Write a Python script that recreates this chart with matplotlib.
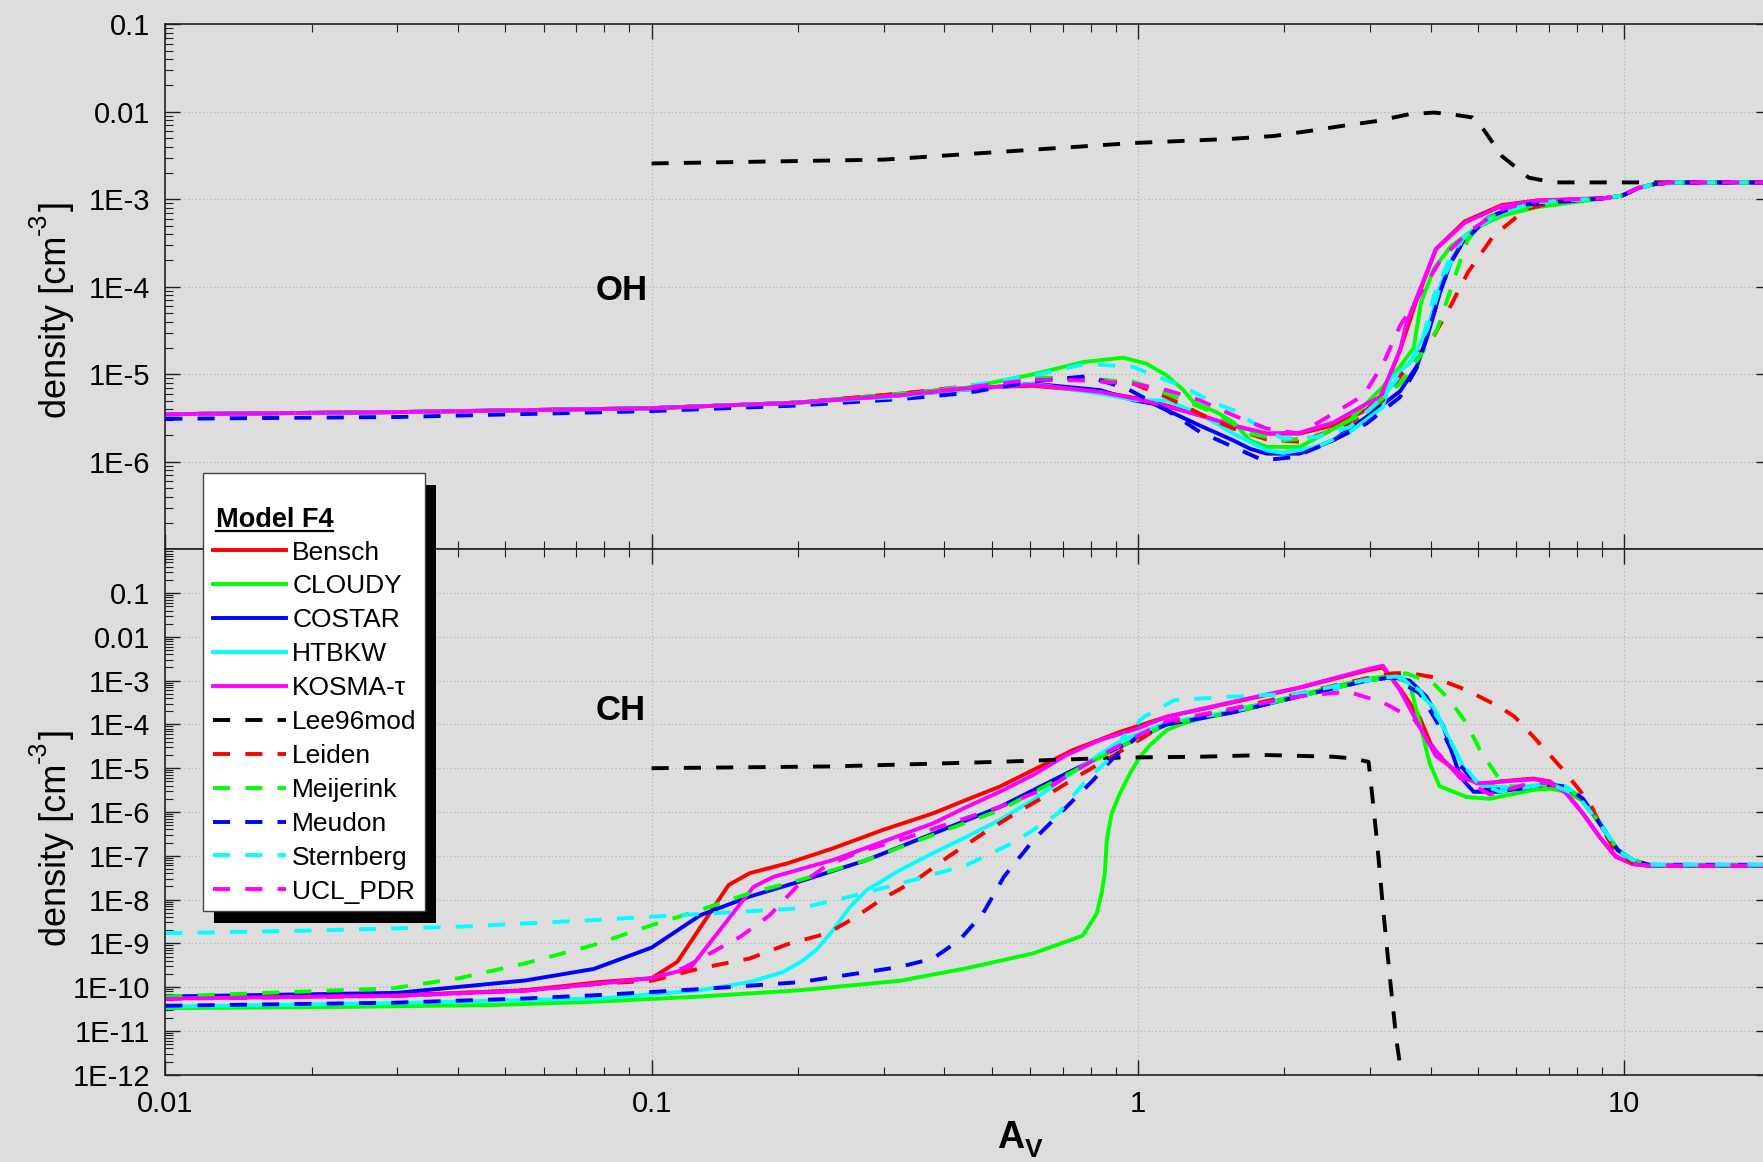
import numpy as np
import matplotlib
matplotlib.use("Agg")
import matplotlib.pyplot as plt
from matplotlib.ticker import LogLocator, FixedLocator, FuncFormatter, NullFormatter
from matplotlib.lines import Line2D
from matplotlib.patches import Rectangle

# ---------------------------------------------------------------- data
models = ["Bensch", "CLOUDY", "COSTAR", "HTBKW", "KOSMA-\u03c4", "Lee96mod",
          "Leiden", "Meijerink", "Meudon", "Sternberg", "UCL_PDR"]
colors = ["#ff0000", "#00ff00", "#0000ff", "#00ffff", "#ff00ff", "#000000",
          "#ff0000", "#00ff00", "#0000ff", "#00ffff", "#ff00ff"]
dashed = [False, False, False, False, False, True, True, True, True, True, True]

# ---- OH panel (A_V, density)
oh_base_av = [0.01, 0.03, 0.1, 0.2]
oh_base_n = [3.5e-6, 3.7e-6, 4.1e-6, 4.75e-6]
oh_meudon_base_n = [3.1e-6, 3.25e-6, 3.8e-6, 4.4e-6]
oh_tail_av = [9.09, 9.9, 10.7, 11.6, 12.6, 20.0]
oh_tail_n = [1.03e-3, 1.1e-3, 1.35e-3, 1.5e-3, 1.56e-3, 1.56e-3]

oh_av_bensch = [0.324, 0.444, 0.609, 0.836, 1.0, 1.146, 1.34, 1.57, 1.84, 2.15,
                2.52, 2.95, 3.19, 3.46, 3.74, 4.1, 4.7, 5.6, 6.6]
oh_n_bensch = [6.0e-6, 7.0e-6, 7.4e-6, 6.3e-6, 5.3e-6, 4.4e-6, 3.4e-6, 2.6e-6, 2.1e-6, 2.1e-6,
               2.6e-6, 3.9e-6, 6.0e-6, 1.9e-5, 7.0e-5, 2.7e-4, 5.6e-4, 8.6e-4, 9.7e-4]
oh_av_cloudy = [0.324, 0.444, 0.609, 0.772, 0.933, 1.042, 1.146, 1.24, 1.30, 1.45,
                1.57, 1.70, 1.84, 2.15, 2.73, 3.19, 3.45, 3.69, 3.82, 4.06,
                4.4, 4.93, 5.61, 6.59]
oh_n_cloudy = [6.0e-6, 7.0e-6, 1.0e-5, 1.38e-5, 1.55e-5, 1.32e-5, 9.7e-6, 6.6e-6, 4.8e-6, 3.7e-6,
               2.85e-6, 1.76e-6, 1.48e-6, 1.48e-6, 3.0e-6, 7.2e-6, 1.2e-5, 2.0e-5, 6.6e-5, 1.6e-4,
               2.9e-4, 4.6e-4, 6.5e-4, 8.1e-4]
oh_av_costar = [0.324, 0.609, 0.836, 0.979, 1.076, 1.146, 1.34, 1.57, 1.70, 1.84,
                2.15, 2.52, 2.95, 3.46, 3.75, 3.94, 4.2, 4.4, 4.65, 5.25, 6.08]
oh_n_costar = [5.75e-6, 7.8e-6, 6.6e-6, 5.05e-6, 4.6e-6, 3.9e-6, 2.6e-6, 1.76e-6, 1.41e-6, 1.24e-6,
               1.24e-6, 1.76e-6, 3.25e-6, 6.4e-6, 1.25e-5, 2.75e-5, 9.4e-5, 1.9e-4, 3.2e-4, 6.2e-4, 8.4e-4]
oh_av_htbkw = [0.324, 0.609, 0.836, 0.994, 1.146, 1.34, 1.57, 1.84, 1.99, 2.33,
               2.73, 3.19, 3.30, 3.63, 3.94, 4.2, 4.65, 5.25, 6.08]
oh_n_htbkw = [5.75e-6, 7.8e-6, 6.0e-6, 5.05e-6, 5.05e-6, 3.55e-6, 2.1e-6, 1.35e-6, 1.26e-6, 1.48e-6,
              2.2e-6, 4.2e-6, 8.8e-6, 1.36e-5, 3.3e-5, 1.1e-4, 3.5e-4, 5.9e-4, 8.4e-4]
oh_av_kosma = [0.324, 0.444, 0.609, 0.836, 1.0, 1.146, 1.34, 1.57, 1.84, 2.15,
               2.52, 2.95, 3.15, 3.46, 3.57, 3.82, 4.1, 4.7, 5.6, 6.6]
oh_n_kosma = [5.75e-6, 6.9e-6, 7.6e-6, 6.3e-6, 5.2e-6, 4.3e-6, 3.4e-6, 2.6e-6, 2.1e-6, 2.15e-6,
              2.8e-6, 4.6e-6, 5.5e-6, 1.9e-5, 3.9e-5, 1.0e-4, 2.7e-4, 5.4e-4, 8.4e-4, 9.6e-4]
oh_av_lee = [0.1, 0.3, 0.98, 1.55, 1.91, 2.28, 2.63, 3.08, 3.62, 4.06,
             4.4, 4.88, 5.05, 5.61, 6.36, 7.14, 20.0]
oh_n_lee = [2.57e-3, 2.84e-3, 4.4e-3, 4.9e-3, 5.3e-3, 6.1e-3, 6.9e-3, 7.8e-3, 9.4e-3, 9.8e-3,
            9.4e-3, 8.6e-3, 7.2e-3, 3.1e-3, 1.77e-3, 1.56e-3, 1.56e-3]
oh_av_leiden = [0.324, 0.609, 0.784, 0.979, 1.146, 1.34, 1.57, 1.84, 2.15, 2.73,
                3.19, 3.51, 4.06, 4.4, 4.77, 5.38, 6.28, 7.14]
oh_n_leiden = [6.0e-6, 8.9e-6, 9.1e-6, 7.8e-6, 5.5e-6, 3.55e-6, 2.4e-6, 1.8e-6, 1.69e-6, 2.73e-6,
               5.05e-6, 1.05e-5, 2.75e-5, 6.1e-5, 1.46e-4, 3.8e-4, 7.7e-4, 9.2e-4]
oh_av_meijerink = [0.324, 0.609, 0.784, 0.979, 1.076, 1.24, 1.45, 1.70, 1.99, 2.33,
                   2.95, 3.46, 3.8, 4.13, 4.33, 4.54, 4.77, 5.25, 6.08]
oh_n_meijerink = [5.75e-6, 9.3e-6, 8.7e-6, 8.2e-6, 6.9e-6, 5.05e-6, 3.55e-6, 2.1e-6, 1.76e-6, 1.92e-6,
                  3.7e-6, 7.8e-6, 1.6e-5, 3.3e-5, 7.2e-5, 1.6e-4, 3.5e-4, 6.2e-4, 8.1e-4]
oh_av_meudon = [0.324, 0.444, 0.609, 0.784, 0.948, 1.146, 1.34, 1.57, 1.81, 2.09,
                2.44, 2.95, 3.46, 3.75, 3.94, 4.2, 4.4, 4.65, 5.25, 6.08]
oh_n_meudon = [5.2e-6, 6.1e-6, 8.3e-6, 9.5e-6, 6.9e-6, 3.9e-6, 2.2e-6, 1.48e-6, 1.04e-6, 1.13e-6,
               1.61e-6, 2.73e-6, 5.5e-6, 1.2e-5, 2.8e-5, 9.4e-5, 1.9e-4, 3.2e-4, 6.2e-4, 8.6e-4]
oh_av_sternberg = [0.324, 0.609, 0.784, 0.979, 1.24, 1.45, 1.57, 1.78, 1.99, 2.33,
                   2.73, 3.19, 3.80, 4.06, 4.4, 4.77, 5.61, 6.59]
oh_n_sternberg = [5.5e-6, 9.7e-6, 1.32e-5, 1.21e-5, 7.2e-6, 4.6e-6, 3.9e-6, 2.5e-6, 1.84e-6, 1.92e-6,
                  2.5e-6, 5.5e-6, 1.9e-5, 7.9e-5, 2.3e-4, 4.2e-4, 7.1e-4, 9.2e-4]
oh_av_ucl = [0.324, 0.609, 0.772, 0.979, 1.146, 1.34, 1.57, 1.84, 2.15, 2.52,
             2.91, 3.19, 3.46, 3.75, 4.2, 4.77, 5.61, 6.59]
oh_n_ucl = [5.75e-6, 8.7e-6, 8.5e-6, 7.8e-6, 6.6e-6, 5.05e-6, 3.4e-6, 2.4e-6, 2.1e-6, 3.55e-6,
            5.75e-6, 1.3e-5, 3.6e-5, 7.2e-5, 2.07e-4, 4.2e-4, 7.7e-4, 9.6e-4]

# ---- CH panel (A_V, density)
ch_av_bensch = [0.01, 0.03, 0.055, 0.078, 0.1, 0.113, 0.144, 0.159, 0.19, 0.236,
                0.299, 0.379, 0.444, 0.52, 0.609, 0.735, 0.92, 1.146, 1.57, 2.15,
                2.95, 3.19, 3.46, 3.8, 4.05, 4.6, 5.13, 5.56, 6.5, 7.03,
                7.6, 8.22, 8.9, 9.6, 10.4, 11.25, 20.0]
ch_n_bensch = [5.6e-11, 6.5e-11, 8.5e-11, 1.3e-10, 1.6e-10, 3.8e-10, 2.15e-8, 4.0e-8, 6.7e-8, 1.48e-7,
               3.9e-7, 9.3e-7, 1.9e-6, 3.8e-6, 9.1e-6, 2.6e-5, 6.8e-5, 1.5e-4, 3.2e-4, 6.9e-4,
               1.7e-3, 2.0e-3, 6.5e-4, 1.4e-4, 2.6e-5, 6.4e-6, 4.2e-6, 5.0e-6, 5.8e-6, 5.0e-6,
               2.7e-6, 9.3e-7, 2.7e-7, 9.6e-8, 6.5e-8, 5.9e-8, 5.9e-8]
ch_av_cloudy = [0.01, 0.0215, 0.0473, 0.078, 0.126, 0.202, 0.324, 0.444, 0.609, 0.77,
                0.823, 0.842, 0.855, 0.863, 0.883, 0.919, 0.963, 1.01, 1.06, 1.146,
                1.24, 1.57, 2.15, 2.95, 3.34, 3.62, 3.8, 3.98, 4.17, 4.74,
                5.3, 6.5, 7.04, 7.6, 8.23, 8.9, 9.7, 10.4, 11.25, 20.0]
ch_n_cloudy = [3.3e-11, 3.5e-11, 3.9e-11, 4.7e-11, 6.1e-11, 8.5e-11, 1.4e-10, 2.7e-10, 5.9e-10, 1.5e-9,
               4.8e-9, 1.4e-8, 4.0e-8, 2.3e-7, 9.3e-7, 2.7e-6, 7.6e-6, 1.83e-5, 3.4e-5, 7.4e-5,
               1.06e-4, 2.1e-4, 4.7e-4, 1.1e-3, 1.3e-3, 8.7e-4, 1.06e-4, 1.3e-5, 3.9e-6, 2.2e-6,
               2.0e-6, 3.2e-6, 3.4e-6, 2.9e-6, 1.8e-6, 5.5e-7, 1.35e-7, 8e-8, 6.2e-8, 6.2e-8]
ch_av_costar = [0.01, 0.03, 0.055, 0.076, 0.1, 0.126, 0.159, 0.202, 0.277, 0.379,
                0.52, 0.713, 0.92, 1.146, 1.57, 2.15, 2.95, 3.34, 3.62, 3.92,
                4.25, 4.6, 4.9, 5.55, 6.5, 7.0, 7.6, 8.23, 8.9, 9.7,
                10.4, 11.25, 20.0]
ch_n_costar = [6.1e-11, 7.4e-11, 1.42e-10, 2.6e-10, 8e-10, 4.4e-9, 1.17e-8, 2.6e-8, 8.0e-8, 3.2e-7,
               1.3e-6, 7.6e-6, 3.1e-5, 1.0e-4, 1.9e-4, 4.4e-4, 1.0e-3, 1.2e-3, 1.0e-3, 4.3e-4,
               8.9e-5, 6.4e-6, 2.9e-6, 2.9e-6, 3.9e-6, 4.2e-6, 3.6e-6, 1.9e-6, 5.5e-7, 1.35e-7,
               8e-8, 6.2e-8, 6.2e-8]
ch_av_htbkw = [0.01, 0.0294, 0.055, 0.078, 0.126, 0.159, 0.186, 0.203, 0.218, 0.236,
               0.256, 0.277, 0.324, 0.379, 0.444, 0.52, 0.609, 0.713, 0.836, 0.92,
               1.146, 1.57, 2.15, 2.95, 3.46, 4.05, 4.38, 4.74, 5.13, 6.0,
               7.04, 7.6, 8.23, 8.9, 9.7, 10.4, 11.25, 20.0]
ch_n_htbkw = [3.6e-11, 4.3e-11, 5.1e-11, 5.5e-11, 8.5e-11, 1.3e-10, 2.2e-10, 3.8e-10, 7.0e-10, 2.0e-9,
              6.8e-9, 1.65e-8, 4.7e-8, 1.15e-7, 2.7e-7, 6.6e-7, 1.9e-6, 6.4e-6, 2.1e-5, 4.2e-5,
              1.1e-4, 2.0e-4, 4.4e-4, 1.0e-3, 1.3e-3, 2.5e-4, 4.4e-5, 7.6e-6, 3.9e-6, 3.6e-6,
              4.5e-6, 3.8e-6, 2.0e-6, 6e-7, 1.4e-7, 8e-8, 6.2e-8, 6.2e-8]
ch_av_kosma = [0.01, 0.03, 0.055, 0.078, 0.1, 0.12, 0.162, 0.178, 0.236, 0.299,
               0.379, 0.444, 0.52, 0.609, 0.713, 0.836, 1.0, 1.146, 1.57, 2.15,
               2.95, 3.19, 3.46, 3.74, 4.1, 4.6, 4.97, 5.56, 6.5, 7.03,
               7.6, 8.22, 8.9, 9.6, 10.4, 11.25, 20.0]
ch_n_kosma = [5.5e-11, 6.4e-11, 8.3e-11, 1.2e-10, 1.6e-10, 2.7e-10, 1.95e-8, 3.3e-8, 8.0e-8, 2.1e-7,
              5.5e-7, 1.3e-6, 2.9e-6, 7.0e-6, 2.0e-5, 4.4e-5, 8.1e-5, 1.5e-4, 3.3e-4, 7.0e-4,
              1.8e-3, 2.2e-3, 6.0e-4, 1.2e-4, 1.9e-5, 7.6e-6, 4.5e-6, 4.9e-6, 5.6e-6, 4.9e-6,
              2.66e-6, 9.3e-7, 2.7e-7, 9.6e-8, 6.5e-8, 5.9e-8, 5.9e-8]
ch_av_lee = [0.1, 0.236, 0.52, 0.92, 1.34, 1.84, 2.52, 2.77, 2.98, 3.0,
             3.1, 3.19, 3.29, 3.4, 3.48, 3.55]
ch_n_lee = [1.0e-5, 1.1e-5, 1.4e-5, 1.75e-5, 1.83e-5, 2.0e-5, 1.83e-5, 1.67e-5, 1.4e-5, 7.6e-6,
            2.3e-7, 6.9e-9, 2.1e-10, 6.3e-12, 1.07e-12, 1e-13]
ch_av_leiden = [0.01, 0.03, 0.055, 0.078, 0.1, 0.126, 0.159, 0.19, 0.23, 0.26,
                0.299, 0.35, 0.41, 0.48, 0.56, 0.66, 0.77, 0.88, 1.146, 1.57,
                2.15, 2.95, 3.34, 3.6, 4.05, 4.74, 5.55, 5.95, 6.5, 7.5,
                8.5, 8.9, 9.6, 10.4, 11.25, 20.0]
ch_n_leiden = [5.5e-11, 6.4e-11, 8.5e-11, 1.2e-10, 1.4e-10, 2.7e-10, 4.5e-10, 9.5e-10, 1.7e-9, 3.7e-9,
               1.06e-8, 2.8e-8, 1e-7, 3.2e-7, 9.3e-7, 2.67e-6, 7.6e-6, 1.8e-5, 1.06e-4, 2.3e-4,
               5.1e-4, 1.13e-3, 1.47e-3, 1.5e-3, 1.2e-3, 6.1e-4, 2.5e-4, 1.5e-4, 5.3e-5, 9e-6,
               1.6e-6, 5.5e-7, 1.2e-7, 7e-8, 6.0e-8, 6.0e-8]
ch_av_meijerink = [0.01, 0.0294, 0.0402, 0.055, 0.0758, 0.1, 0.126, 0.159, 0.202, 0.277,
                   0.379, 0.52, 0.713, 0.92, 1.146, 1.57, 2.15, 2.95, 3.56, 4.05,
                   4.38, 4.74, 5.05, 5.55, 5.8, 6.5, 7.0, 7.6, 8.23, 8.9,
                   9.7, 10.4, 11.25, 20.0]
ch_n_meijerink = [6.1e-11, 9.4e-11, 1.6e-10, 3.5e-10, 9.1e-10, 2.6e-9, 5.8e-9, 1.39e-8, 2.8e-8, 8e-8,
                  3.0e-7, 1.1e-6, 7.0e-6, 3.1e-5, 1.0e-4, 1.9e-4, 4.4e-4, 1.0e-3, 1.47e-3, 8.7e-4,
                  3.6e-4, 1.06e-4, 2.6e-5, 5.4e-6, 3.9e-6, 3.9e-6, 4.2e-6, 3.6e-6, 1.9e-6, 5.5e-7,
                  1.35e-7, 8e-8, 6.2e-8, 6.2e-8]
ch_av_meudon = [0.01, 0.0294, 0.055, 0.078, 0.126, 0.202, 0.324, 0.379, 0.43, 0.48,
                0.53, 0.61, 0.713, 0.81, 0.88, 1.0, 1.146, 1.57, 2.15, 2.95,
                3.34, 3.8, 4.2, 4.55, 5.13, 6.0, 7.0, 7.6, 8.23, 8.9,
                9.7, 10.4, 11.25, 20.0]
ch_n_meudon = [3.75e-11, 4.4e-11, 5.5e-11, 6.6e-11, 9.0e-11, 1.3e-10, 2.9e-10, 4.5e-10, 1.2e-9, 4.8e-9,
               3.3e-8, 2.3e-7, 1.3e-6, 5.4e-6, 1.5e-5, 5.5e-5, 1.0e-4, 1.9e-4, 4.4e-4, 1.0e-3,
               1.2e-3, 5.1e-4, 8e-5, 1.3e-5, 3.2e-6, 3.3e-6, 4.2e-6, 3.8e-6, 2.0e-6, 5.5e-7,
               1.35e-7, 8e-8, 6.2e-8, 6.2e-8]
ch_av_sternberg = [0.01, 0.0215, 0.0402, 0.0758, 0.114, 0.202, 0.256, 0.324, 0.444, 0.56,
                   0.685, 0.78, 0.89, 0.93, 1.03, 1.19, 1.55, 2.15, 2.95, 3.4,
                   3.8, 4.2, 4.6, 5.0, 5.56, 6.8, 7.2, 8.0, 8.9, 9.7,
                   10.4, 11.25, 20.0]
ch_n_sternberg = [1.7e-9, 2.0e-9, 2.4e-9, 3.4e-9, 4.4e-9, 6.3e-9, 1.17e-8, 2.3e-8, 6.1e-8, 2.1e-7,
                  9.3e-7, 5e-6, 2e-5, 5e-5, 1.5e-4, 3.6e-4, 4.3e-4, 5.1e-4, 1.05e-3, 1.25e-3,
                  6e-4, 1.1e-4, 1.5e-5, 4.5e-6, 2.9e-6, 4.2e-6, 4.0e-6, 2.4e-6, 5.5e-7, 1.35e-7,
                  8e-8, 6.2e-8, 6.2e-8]
ch_av_ucl = [0.01, 0.03, 0.055, 0.078, 0.1, 0.116, 0.13, 0.152, 0.175, 0.199,
             0.23, 0.268, 0.324, 0.41, 0.52, 0.66, 0.77, 0.88, 1.146, 1.57,
             2.15, 2.7, 3.19, 3.7, 4.1, 4.6, 5.3, 6.5, 7.03, 7.6,
             8.22, 8.9, 9.6, 10.4, 11.25, 20.0]
ch_n_ucl = [5.4e-11, 6.3e-11, 8.3e-11, 1.2e-10, 1.6e-10, 2.7e-10, 5.4e-10, 1.4e-9, 4.4e-9, 2e-8,
            6.1e-8, 1.23e-7, 2.3e-7, 5.5e-7, 1.3e-6, 3.8e-6, 1.1e-5, 2.6e-5, 1.2e-4, 2.3e-4,
            4.4e-4, 5.6e-4, 3.2e-4, 1.3e-4, 2.5e-5, 6e-6, 2.5e-6, 4.8e-6, 4.5e-6, 2.7e-6,
            9.5e-7, 2.7e-7, 1e-7, 6.5e-8, 6.0e-8, 6.0e-8]

# tick labels
oh_yticks = [1e-6, 1e-5, 1e-4, 1e-3, 1e-2, 1e-1]
ch_yticks = [1e-12, 1e-11, 1e-10, 1e-9, 1e-8, 1e-7, 1e-6, 1e-5, 1e-4, 1e-3, 1e-2, 1e-1]
x_ticks = [0.01, 0.1, 1, 10]
x_ticklabels = ["0.01", "0.1", "1", "10"]

# assemble OH series (common low-A_V baseline and high-A_V plateau)
oh_mid = [(oh_av_bensch, oh_n_bensch), (oh_av_cloudy, oh_n_cloudy), (oh_av_costar, oh_n_costar),
          (oh_av_htbkw, oh_n_htbkw), (oh_av_kosma, oh_n_kosma), None,
          (oh_av_leiden, oh_n_leiden), (oh_av_meijerink, oh_n_meijerink),
          (oh_av_meudon, oh_n_meudon), (oh_av_sternberg, oh_n_sternberg), (oh_av_ucl, oh_n_ucl)]
oh_series = []
for i, m in enumerate(oh_mid):
    if m is None:
        oh_series.append((oh_av_lee, oh_n_lee))
        continue
    base_n = oh_meudon_base_n if models[i] == "Meudon" else oh_base_n
    oh_series.append((oh_base_av + m[0] + oh_tail_av, base_n + m[1] + oh_tail_n))
ch_series = [(ch_av_bensch, ch_n_bensch), (ch_av_cloudy, ch_n_cloudy), (ch_av_costar, ch_n_costar),
             (ch_av_htbkw, ch_n_htbkw), (ch_av_kosma, ch_n_kosma), (ch_av_lee, ch_n_lee),
             (ch_av_leiden, ch_n_leiden), (ch_av_meijerink, ch_n_meijerink),
             (ch_av_meudon, ch_n_meudon), (ch_av_sternberg, ch_n_sternberg), (ch_av_ucl, ch_n_ucl)]

# ---------------------------------------------------------------- style
W, H, DPI = 1763, 1162, 100
BG = "#dddddd"
plt.rcParams["font.family"] = ["Liberation Sans", "DejaVu Sans"]

fig = plt.figure(figsize=(W / DPI, H / DPI), dpi=DPI)
fig.patch.set_facecolor(BG)


def add_ax(l, t, r, b):
    return fig.add_axes([l / W, 1 - b / H, (r - l) / W, (b - t) / H])


ax_oh = add_ax(165.3, 24.3, 1770.6, 549.3)
ax_ch = add_ax(165.3, 549.3, 1770.6, 1074.7)

LW = 2.8
DASH = (0, (4.4, 3.9))

handles = []
for i, name in enumerate(models):
    ls = DASH if dashed[i] else "-"
    ax_oh.plot(oh_series[i][0], oh_series[i][1], color=colors[i], lw=LW, linestyle=ls)
    ln, = ax_ch.plot(ch_series[i][0], ch_series[i][1], color=colors[i], lw=LW, linestyle=ls)
    handles.append(ln)


def ylab(v, pos):
    e = int(round(np.log10(v)))
    if e == -1:
        return "0.1"
    if e == -2:
        return "0.01"
    return "1E%d" % e


def style(ax, ylim, yticks, show_x):
    ax.set_facecolor(BG)
    ax.set_xscale("log")
    ax.set_yscale("log")
    ax.set_xlim(0.01, 20)
    ax.set_ylim(*ylim)
    ax.xaxis.set_major_locator(FixedLocator(x_ticks))
    ax.xaxis.set_minor_locator(LogLocator(base=10, subs=np.arange(2, 10), numticks=200))
    ax.yaxis.set_major_locator(FixedLocator(yticks))
    ax.yaxis.set_minor_locator(LogLocator(base=10, subs=np.arange(2, 10), numticks=400))
    ax.yaxis.set_major_formatter(FuncFormatter(ylab))
    ax.set_xticklabels(x_ticklabels)
    ax.xaxis.set_minor_formatter(NullFormatter())
    ax.yaxis.set_minor_formatter(NullFormatter())
    ax.tick_params(which="both", direction="in", top=True, right=True,
                   labelsize=21, colors="#222222", labelcolor="black")
    ax.tick_params(which="major", length=11, width=1.0, pad=11)
    ax.tick_params(which="minor", length=5.5, width=0.8)
    if not show_x:
        ax.tick_params(labelbottom=False)
    ax.grid(True, which="major", color="#b5b5b5", linestyle=(0, (1, 2)), linewidth=0.9)
    ax.set_axisbelow(True)
    for s in ax.spines.values():
        s.set_linewidth(1.2)
        s.set_color("#222222")


style(ax_oh, (1e-7, 0.1), oh_yticks, False)
style(ax_ch, (1e-12, 1.0), ch_yticks, True)

# species labels
fig.text(596 / W, 1 - 300 / H, "OH", fontsize=25, fontweight="bold", ha="left", va="baseline")
fig.text(596 / W, 1 - 720 / H, "CH", fontsize=25, fontweight="bold", ha="left", va="baseline")

# x label  A_V
ta = fig.text(997 / W, 1 - 1148 / H, "A", fontsize=27, fontweight="bold",
              ha="left", va="baseline")
fig.canvas.draw()
bba = ta.get_window_extent()
fig.text((bba.x1 + 1) / W, (H - 1148 - 9) / H, "V", fontsize=19, fontweight="bold",
         ha="left", va="baseline")


# y labels "density [cm^-3]" composed of rotated pieces (plain hyphen in exponent)
def ylabel_at(y_start):
    xb = 66
    t1 = fig.text(xb / W, 1 - y_start / H, "density [cm", rotation=90, rotation_mode="anchor",
                  ha="left", va="baseline", fontsize=26)
    fig.canvas.draw()
    e1 = t1.get_window_extent()
    t2 = fig.text((xb - 20) / W, (e1.y1 + 1) / H, "-3", rotation=90, rotation_mode="anchor",
                  ha="left", va="baseline", fontsize=18)
    fig.canvas.draw()
    e2 = t2.get_window_extent()
    fig.text(xb / W, (e2.y1 + 1) / H, "]", rotation=90, rotation_mode="anchor",
             ha="left", va="baseline", fontsize=26)


ylabel_at(418)
ylabel_at(946)

# legend box with shadow
fig.add_artist(Rectangle((214 / W, 1 - 922.7 / H), 222 / W, 438 / H, transform=fig.transFigure,
                         facecolor="black", edgecolor="none", zorder=4))
fig.add_artist(Rectangle((203 / W, 1 - 911 / H), 222 / W, 438 / H, transform=fig.transFigure,
                         facecolor="white", edgecolor="#444444", lw=1.0, zorder=4.5))
leg = fig.legend(handles, models, loc="upper left", bbox_to_anchor=(213 / W, 1 - 540.6 / H),
                 bbox_transform=fig.transFigure, frameon=False, borderpad=0, borderaxespad=0,
                 handlelength=2.77, handletextpad=0.23, labelspacing=0.375, prop={"size": 19})
leg.set_zorder(6)
title = fig.text(215.6 / W, 1 - 526.7 / H, "Model F4", fontsize=19.5, fontweight="bold",
                 ha="left", va="baseline", zorder=7)
fig.canvas.draw()
bb = title.get_window_extent()
fig.add_artist(Line2D([bb.x0 / W, bb.x1 / W], [1 - 530.7 / H, 1 - 530.7 / H],
                      transform=fig.transFigure, color="black", lw=1.6, zorder=7))

fig.savefig("out.png", dpi=DPI, facecolor=BG)
